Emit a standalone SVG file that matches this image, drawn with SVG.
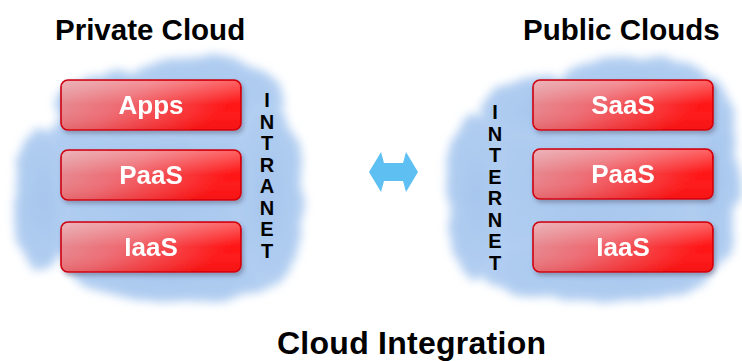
<svg xmlns="http://www.w3.org/2000/svg" width="742" height="361" viewBox="0 0 742 361">
  <defs>
    <style>
      .title { font-family: "Liberation Sans", Arial, sans-serif; font-weight: bold; font-size: 29.5px; fill: #000; }
      .label { font-family: "Liberation Sans", Arial, sans-serif; font-weight: bold; font-size: 26px; fill: #fff; text-anchor: middle; }
      .vert  { font-family: "Liberation Sans", Arial, sans-serif; font-weight: bold; font-size: 20px; fill: #000; text-anchor: middle; }
      .cloud { fill: url(#cloudFill); filter: url(#cloudSoft); }
      .box   { fill: url(#boxFill); stroke: #d0000e; stroke-width: 1.6; }
      .gloss { fill: url(#boxGloss); }
    </style>

    <!-- soft, ragged cloud edge -->
    <filter id="cloudSoft" x="-15%" y="-15%" width="130%" height="130%">
      <feTurbulence type="fractalNoise" baseFrequency="0.03" numOctaves="3" seed="7" result="noise"/>
      <feDisplacementMap in="SourceGraphic" in2="noise" scale="14" xChannelSelector="R" yChannelSelector="G" result="ragged"/>
      <feGaussianBlur in="ragged" stdDeviation="5"/>
    </filter>

    <radialGradient id="cloudFill" cx="50%" cy="50%" r="60%">
      <stop offset="0" stop-color="#a7c6ed"/>
      <stop offset="0.75" stop-color="#b0cdf1"/>
      <stop offset="1" stop-color="#c6dbf5"/>
    </radialGradient>

    <linearGradient id="boxFill" x1="0" y1="0" x2="1" y2="0.35">
      <stop offset="0" stop-color="#e3979e"/>
      <stop offset="0.45" stop-color="#ee6a72"/>
      <stop offset="1" stop-color="#ff1414"/>
    </linearGradient>

    <linearGradient id="boxGloss" x1="0" y1="0" x2="0" y2="1">
      <stop offset="0" stop-color="#ffffff" stop-opacity="0.28"/>
      <stop offset="0.5" stop-color="#ffffff" stop-opacity="0"/>
      <stop offset="1" stop-color="#b00000" stop-opacity="0.12"/>
    </linearGradient>

    <filter id="boxShadow" x="-10%" y="-20%" width="125%" height="160%">
      <feDropShadow dx="2" dy="3" stdDeviation="2" flood-color="#3a3050" flood-opacity="0.35"/>
    </filter>

    <!-- one service box, placed with <use> -->
    <g id="svcBox">
      <rect class="box" x="0" y="0" width="180" height="50" rx="7"/>
      <rect class="gloss" x="1" y="1" width="178" height="48" rx="6"/>
    </g>
  </defs>

  <rect width="742" height="361" fill="#ffffff"/>

  <!-- private cloud backdrop -->
  <g id="private-cloud">
    <g class="cloud">
      <ellipse cx="160" cy="185" rx="135" ry="102"/>
      <ellipse cx="200" cy="98" rx="82" ry="42"/>
      <ellipse cx="115" cy="105" rx="62" ry="32"/>
      <ellipse cx="180" cy="268" rx="112" ry="34"/>
      <ellipse cx="268" cy="195" rx="36" ry="90"/>
      <ellipse cx="42" cy="200" rx="28" ry="72"/>
    </g>
  </g>

  <!-- public cloud backdrop -->
  <g id="public-cloud">
    <g class="cloud">
      <ellipse cx="595" cy="185" rx="138" ry="102"/>
      <ellipse cx="635" cy="98" rx="88" ry="42"/>
      <ellipse cx="540" cy="110" rx="58" ry="32"/>
      <ellipse cx="600" cy="268" rx="118" ry="34"/>
      <ellipse cx="476" cy="195" rx="30" ry="82"/>
      <ellipse cx="714" cy="175" rx="24" ry="98"/>
    </g>
  </g>

  <!-- titles -->
  <g id="title-private"><text class="title" x="55" y="40">Private Cloud</text></g>
  <g id="title-public"><text class="title" x="523" y="40">Public Clouds</text></g>
  <g id="title-integration"><text class="title" x="277" y="354" style="font-size:32px" textLength="269" lengthAdjust="spacing">Cloud Integration</text></g>

  <!-- private stack -->
  <g id="private-apps" filter="url(#boxShadow)">
    <use href="#svcBox" x="61" y="80"/>
    <text class="label" x="151" y="114">Apps</text>
  </g>
  <g id="private-paas" filter="url(#boxShadow)">
    <use href="#svcBox" x="61" y="150"/>
    <text class="label" x="151" y="184">PaaS</text>
  </g>
  <g id="private-iaas" filter="url(#boxShadow)">
    <use href="#svcBox" x="61" y="222"/>
    <text class="label" x="151" y="256">IaaS</text>
  </g>

  <!-- public stack -->
  <g id="public-saas" filter="url(#boxShadow)">
    <use href="#svcBox" x="533" y="80"/>
    <text class="label" x="623" y="114">SaaS</text>
  </g>
  <g id="public-paas" filter="url(#boxShadow)">
    <use href="#svcBox" x="533" y="149"/>
    <text class="label" x="623" y="183">PaaS</text>
  </g>
  <g id="public-iaas" filter="url(#boxShadow)">
    <use href="#svcBox" x="533" y="222"/>
    <text class="label" x="623" y="256">IaaS</text>
  </g>

  <!-- vertical network labels -->
  <g id="intranet">
    <text class="vert" x="267" y="107">I</text>
    <text class="vert" x="267" y="128.6">N</text>
    <text class="vert" x="267" y="150.1">T</text>
    <text class="vert" x="267" y="171.7">R</text>
    <text class="vert" x="267" y="193.3">A</text>
    <text class="vert" x="267" y="214.9">N</text>
    <text class="vert" x="267" y="236.4">E</text>
    <text class="vert" x="267" y="258">T</text>
  </g>
  <g id="internet">
    <text class="vert" x="495" y="119">I</text>
    <text class="vert" x="495" y="140.6">N</text>
    <text class="vert" x="495" y="162.1">T</text>
    <text class="vert" x="495" y="183.7">E</text>
    <text class="vert" x="495" y="205.3">R</text>
    <text class="vert" x="495" y="226.9">N</text>
    <text class="vert" x="495" y="248.4">E</text>
    <text class="vert" x="495" y="270">T</text>
  </g>

  <!-- connectors -->
  <g id="connectors">
    <polygon points="369,172 381,152 384,163 403,163 406,152 418,172 406,192 403,181 384,181 381,192" fill="#5ec0f2"/>
  </g>
</svg>
